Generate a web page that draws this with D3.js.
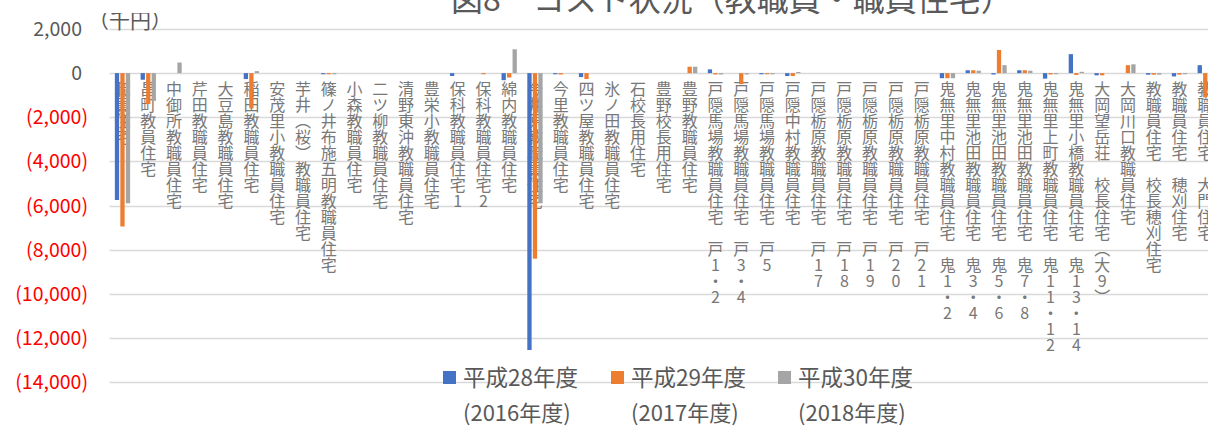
<!DOCTYPE html>
<html>
<head>
<meta charset="utf-8">
<script src="https://cdn.jsdelivr.net/npm/d3@7"></script>
<style>
  html, body { margin: 0; padding: 0; background: #fff; overflow: hidden; }
  svg { display: block; font-family: "Noto Sans CJK JP", "Noto Sans", sans-serif; }
  .cat-label { writing-mode: vertical-rl; text-orientation: upright; }
</style>
</head>
<body>
<div id="chart"></div>
<script>
const categories = [
  "職員住宅", "昌町教員住宅", "中御所教職員住宅", "芹田教職員住宅", "大豆島教職員住宅",
  "稲田教職員住宅", "安茂里小教職員住宅", "芋井（桜）教職員住宅", "篠ノ井布施五明教職員住宅",
  "小森教職員住宅", "二ツ柳教職員住宅", "清野東沖教職員住宅", "豊栄小教職員住宅",
  "保科教職員住宅1", "保科教職員住宅2", "綿内教職員住宅", "今井原教職員住宅",
  "今里教職員住宅", "四ツ屋教職員住宅", "氷ノ田教職員住宅", "石校長用住宅", "豊野校長用住宅",
  "豊野教職員住宅", "戸隠馬場教職員住宅 戸1・2", "戸隠馬場教職員住宅 戸3・4",
  "戸隠馬場教職員住宅 戸5", "戸隠中村教職員住宅", "戸隠栃原教職員住宅 戸17",
  "戸隠栃原教職員住宅 戸18", "戸隠栃原教職員住宅 戸19", "戸隠栃原教職員住宅 戸20",
  "戸隠栃原教職員住宅 戸21", "鬼無里中村教職員住宅 鬼1・2", "鬼無里池田教職員住宅 鬼3・4",
  "鬼無里池田教職員住宅 鬼5・6", "鬼無里池田教職員住宅 鬼7・8", "鬼無里上町教職員住宅 鬼11・12",
  "鬼無里小橋教職員住宅 鬼13・14", "大岡望岳荘 校長住宅（大9）", "大岡川口教職員住宅",
  "教職員住宅 校長穂刈住宅", "教職員住宅 穂刈住宅", "教職員住宅 大門住宅"
];

const fy2016 = [-5750, -300, 0, 0, 0, -270, 0, 0, -50, 0, 0, 0, 0, -130, 0, -320, -12550,
  -50, -180, 0, 0, 0, 0, 170, 0, -50, -130, 0, 0, 0, 0, 0, -230, 130, -60, 130, -250, 860,
  -100, 0, -70, -150, 360];
const fy2017 = [-6950, -1400, 0, 0, 0, -1600, 0, 0, -50, 0, 0, 0, 0, 0, -50, -200, -8410,
  -60, -270, 0, 0, 0, 290, -60, -500, -50, -130, 0, 0, 0, 0, 0, -230, 130, 1050, 130, -60, -80,
  -100, 360, -70, -70, -1100];
const fy2018 = [-5900, -1250, 480, 0, 0, 90, 0, 0, -50, 0, 0, 0, 0, 0, 0, 1080, -5900,
  0, 0, 0, 0, 0, 290, -60, -60, -50, 50, 0, 0, 0, 0, 0, -230, 110, 360, 110, -50, 60,
  0, 400, -70, -50, 0];

const seriesNames = ["平成28年度", "平成29年度", "平成30年度"];
const seriesYears = ["(2016年度)", "(2017年度)", "(2018年度)"];
const seriesValues = [fy2016, fy2017, fy2018];
const colors = ["#4472C4", "#ED7D31", "#A5A5A5"];
const yTicks = [2000, 0, -2000, -4000, -6000, -8000, -10000, -12000, -14000];

const width = 1208, height = 426;
const plotLeft = 109.6, step = 25.78;

const svg = d3.select("#chart").append("svg")
  .attr("width", width)
  .attr("height", height);

// the unit label is cut at its top in the original
svg.append("clipPath")
  .attr("id", "unit-clip")
  .append("rect")
  .attr("x", 0).attr("y", 13)
  .attr("width", 200).attr("height", 30);

const x = d3.scaleBand()
  .domain(categories)
  .range([plotLeft, plotLeft + step * categories.length])
  .padding(0);

const xSub = d3.scaleBand()
  .domain(seriesNames)
  .range([0, 15.3])
  .paddingInner(0.22);

const y = d3.scaleLinear()
  .domain([-14000, 2000])
  .range([382, 29]);

// gridlines
svg.append("g")
  .selectAll("line")
  .data(yTicks)
  .join("line")
  .attr("x1", plotLeft)
  .attr("x2", width)
  .attr("y1", d => Math.round(y(d)) + 0.5)
  .attr("y2", d => Math.round(y(d)) + 0.5)
  .attr("stroke", "#d9d9d9")
  .attr("stroke-width", 1.3);

// y tick labels
svg.append("g")
  .selectAll("text")
  .data(yTicks)
  .join("text")
  .attr("x", d => d < 0 ? 88 : 82)
  .attr("y", d => y(d) + 7)
  .attr("text-anchor", "end")
  .attr("font-size", 19.5)
  .attr("fill", d => d < 0 ? "#FF0000" : "#595959")
  .text(d => d < 0 ? `(${d3.format(",")(-d)})` : d3.format(",")(d));

// category labels (vertical)
svg.append("g")
  .selectAll("text")
  .data(categories)
  .join("text")
  .attr("class", "cat-label")
  .attr("x", d => x(d) + x.bandwidth() / 2)
  .attr("y", 81)
  .attr("font-size", 16)
  .attr("fill", "#787878")
  .text(d => d);

// bars
const groupOffset = (x.bandwidth() - 15.3) / 2;
seriesValues.forEach((vals, si) => {
  svg.append("g")
    .attr("fill", colors[si])
    .selectAll("rect")
    .data(categories.map((c, i) => ({ c, v: vals[i] })).filter(d => d.v !== 0))
    .join("rect")
    .attr("x", d => x(d.c) + groupOffset + xSub(seriesNames[si]))
    .attr("y", d => y(Math.max(0, d.v)))
    .attr("width", xSub.bandwidth())
    .attr("height", d => Math.abs(y(d.v) - y(0)));
});

// title (clipped at top)
svg.append("text")
  .attr("x", 732)
  .attr("y", 11)
  .attr("text-anchor", "middle")
  .attr("font-size", 32)
  .attr("fill", "#595959")
  .text("図8　コスト状況（教職員・職員住宅）");

svg.append("text")
  .attr("x", 88)
  .attr("y", 28)
  .attr("font-size", 21)
  .attr("fill", "#595959")
  .attr("clip-path", "url(#unit-clip)")
  .text("（千円）");

// legend
const legendX = [443, 611, 778];
const legend = svg.append("g")
  .selectAll("g")
  .data(seriesNames)
  .join("g")
  .attr("transform", (d, i) => `translate(${legendX[i]},0)`);

legend.append("rect")
  .attr("x", 0)
  .attr("y", 371)
  .attr("width", 13)
  .attr("height", 13)
  .attr("fill", (d, i) => colors[i]);

legend.append("text")
  .attr("x", 20)
  .attr("y", 386)
  .attr("font-size", 22.5)
  .attr("fill", "#595959")
  .text(d => d);

legend.append("text")
  .attr("x", 20)
  .attr("y", 421)
  .attr("font-size", 22)
  .attr("fill", "#595959")
  .text((d, i) => seriesYears[i]);
</script>
</body>
</html>
